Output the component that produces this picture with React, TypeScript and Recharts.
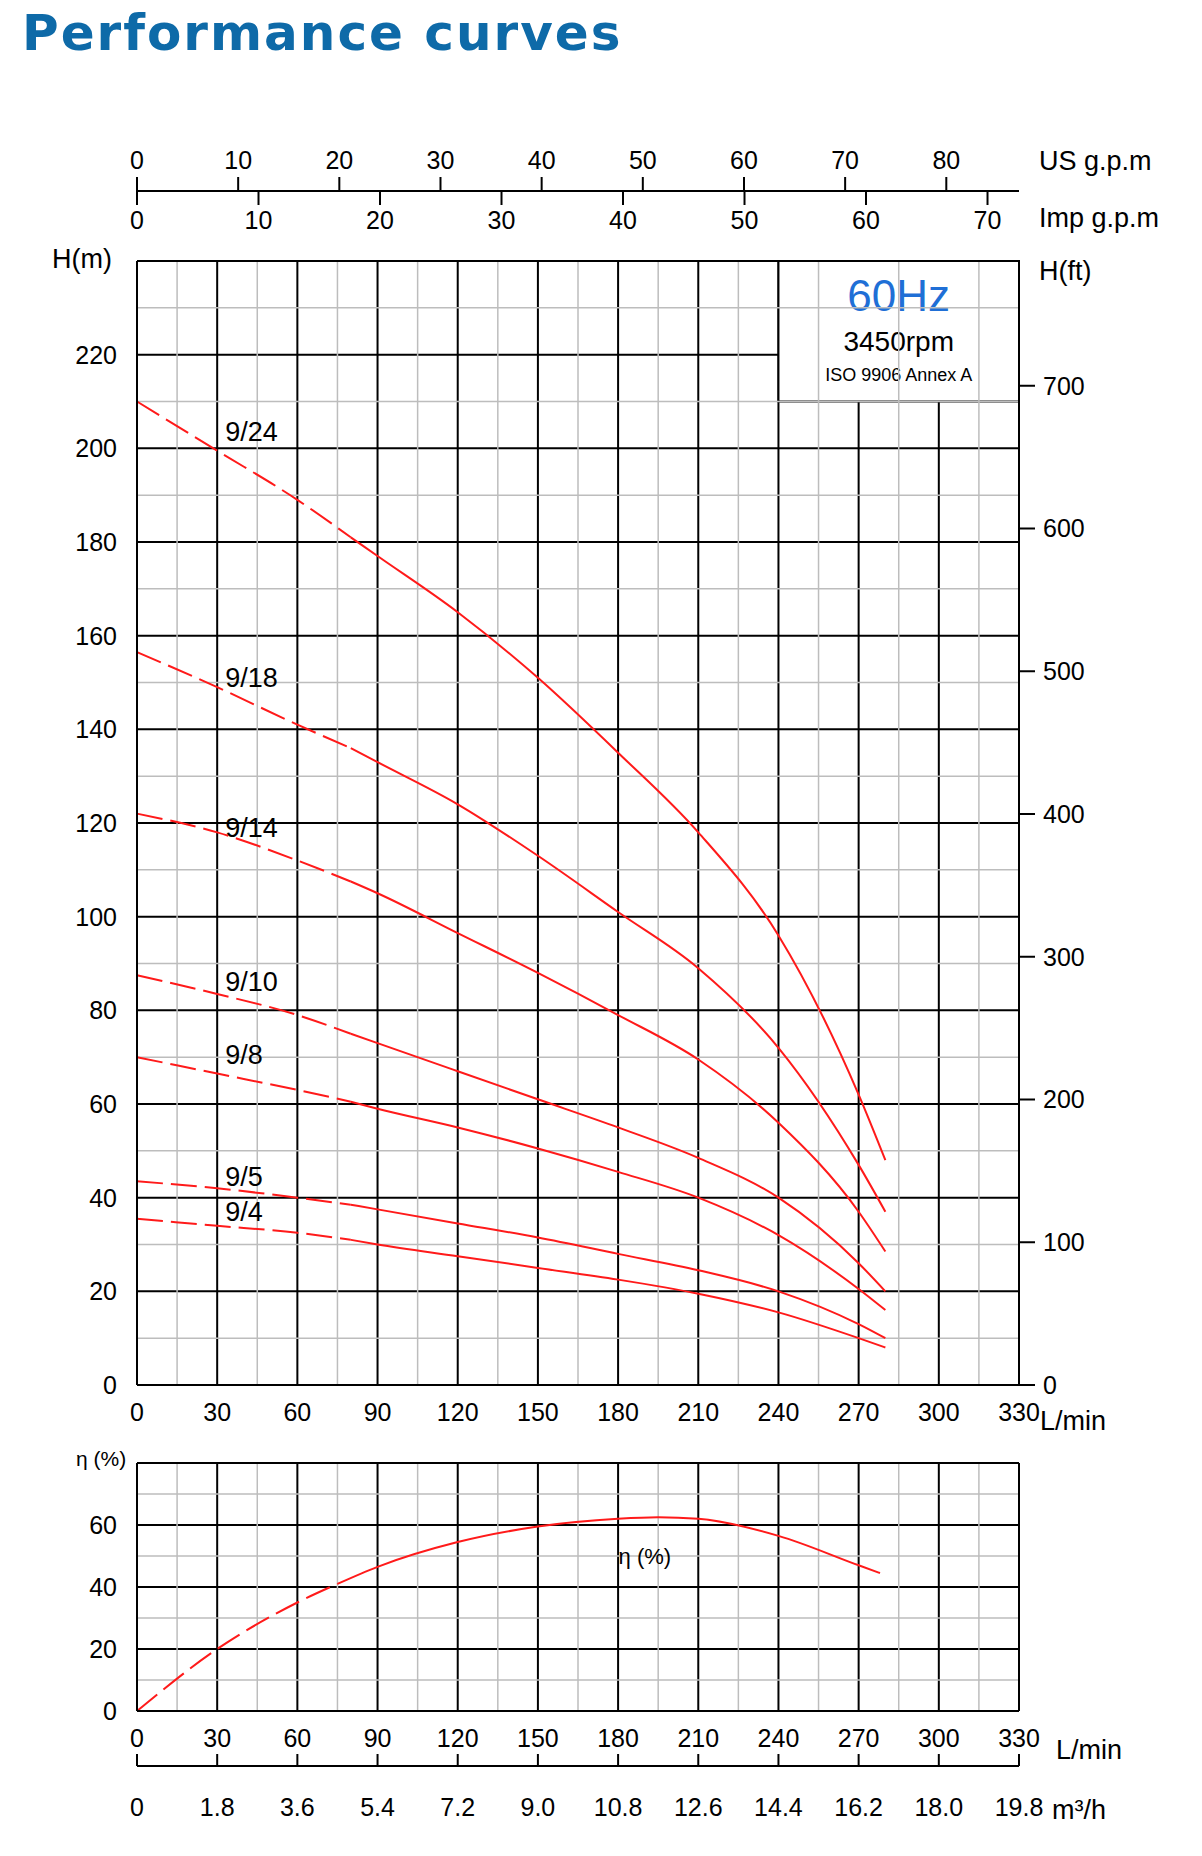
import React from "react";
import { ComposedChart, LineChart, Line, XAxis, YAxis, CartesianGrid, ReferenceLine, ReferenceArea, ReferenceDot } from "recharts";

const flows = [0, 30, 60, 80, 90, 120, 150, 180, 210, 240, 270, 280];
const h24 = [210, 199.5, 189, 181, 177, 165, 151, 135, 118, 96, 62, 48];
const h18 = [156.5, 149, 141, 136, 133, 124, 113, 101, 89, 72, 47, 37];
const h14 = [122, 118, 112, 107.5, 105, 96.5, 88, 79, 69.5, 56, 37, 28.5];
const h10 = [87.5, 83.5, 79, 75, 73, 67, 61, 55, 48.5, 40, 26, 20];
const h8 = [70, 66.5, 63, 60.5, 59, 55, 50.5, 45.5, 40, 32, 20.5, 16];
const h5 = [43.5, 42, 40, 38.5, 37.5, 34.5, 31.5, 28, 24.5, 20, 13, 10];
const h4 = [35.5, 34, 32.5, 31, 30, 27.5, 25, 22.5, 19.5, 15.5, 10, 8];
const curveNames = ["9/24", "9/18", "9/14", "9/10", "9/8", "9/5", "9/4"];
const curveVals = [h24, h18, h14, h10, h8, h5, h4];
const labelY = [203.5, 151, 119, 86, 70.5, 44.5, 37];
const labelX = 33;
const dashEnd = 80;

const effFlows = [0, 30, 60, 75, 90, 120, 150, 180, 195, 210, 240, 270, 278];
const effVals = [0, 20, 35, 41, 46.5, 54.5, 59.5, 62, 62.5, 62, 56.5, 47, 44.5];
const effDashEnd = 75;

const xTicks = [0, 30, 60, 90, 120, 150, 180, 210, 240, 270, 300, 330];
const xMinor = [15, 45, 75, 105, 135, 165, 195, 225, 255, 285, 315];
const yTicks = [0, 20, 40, 60, 80, 100, 120, 140, 160, 180, 200, 220, 240];
const yLabelTicks = [0, 20, 40, 60, 80, 100, 120, 140, 160, 180, 200, 220];
const yMinor = [10, 30, 50, 70, 90, 110, 130, 150, 170, 190, 210, 230];
const ftTicks = [0, 100, 200, 300, 400, 500, 600, 700];
const usTicks = [0, 10, 20, 30, 40, 50, 60, 70, 80];
const impTicks = [0, 10, 20, 30, 40, 50, 60, 70];
const effTicks = [0, 20, 40, 60, 80];
const effLabelTicks = [0, 20, 40, 60];
const effMinor = [10, 30, 50, 70];
const m3Ticks = [0, 1.8, 3.6, 5.4, 7.2, 9.0, 10.8, 12.6, 14.4, 16.2, 18.0, 19.8];

const FONT = "'Liberation Sans', Arial, sans-serif";
const RED = "#ff1a1a";
const tickStyle = { fill: "#000", fontSize: 25, fontFamily: FONT };

const mainData = flows.map((q, i) => {
  const row: any = { q, ft: h24[i] * 3.2808 };
  curveVals.forEach((arr, k) => {
    if (q <= dashEnd) row["d" + k] = arr[i];
    if (q >= dashEnd) row["s" + k] = arr[i];
  });
  return row;
});
const effData = effFlows.map((q, i) => ({
  q,
  m3: (q * 60) / 1000,
  d: q <= effDashEnd ? effVals[i] : undefined,
  s: q >= effDashEnd ? effVals[i] : undefined,
}));

const W = 1202;
const L = 137;
const R = 183;

const BoxLabel = (props: any) => {
  const { viewBox } = props;
  const cx = viewBox.x + viewBox.width / 2;
  const y = viewBox.y;
  return (
    <g fontFamily={FONT}>
      <text x={cx} y={y + 50} textAnchor="middle" fontSize={44} fill="#1f6fd6">60Hz</text>
      <text x={cx} y={y + 90} textAnchor="middle" fontSize={28} fill="#000">3450rpm</text>
      <text x={cx} y={y + 120} textAnchor="middle" fontSize={18} fill="#000">ISO 9906 Annex A</text>
    </g>
  );
};

const txt = (s: string, left: number, top: number, size = 27, extra: any = {}) => (
  <div style={{ position: "absolute", left, top, fontSize: size, fontFamily: FONT, color: "#000", whiteSpace: "nowrap", lineHeight: 1, ...extra }}>{s}</div>
);

export default function App() {
  return (
    <div style={{ position: "absolute", left: 0, top: 0, width: W, height: 1856, background: "#fff" }}>
      <div style={{ position: "absolute", left: 22, top: 4, fontSize: 50, fontWeight: 900, fontFamily: "'DejaVu Sans', sans-serif", color: "#0e6aa8", letterSpacing: 2 }}>Performance curves</div>

      <div style={{ position: "absolute", left: 0, top: 0 }}>
        <LineChart width={W} height={200} data={[]} margin={{ top: 131, right: R, bottom: 0, left: L }}>
          <XAxis type="number" dataKey="q" orientation="top" domain={[0, 330 / 3.785]} ticks={usTicks} height={60} allowDataOverflow tick={tickStyle} tickSize={14} tickMargin={8} stroke="#000" strokeWidth={2} />
        </LineChart>
      </div>
      <div style={{ position: "absolute", left: 0, top: 0 }}>
        <LineChart width={W} height={260} data={[]} margin={{ top: 100, right: R, bottom: 0, left: L }}>
          <XAxis type="number" dataKey="q" orientation="bottom" domain={[0, 330 / 4.546]} ticks={impTicks} height={69} allowDataOverflow tick={tickStyle} tickSize={14} tickMargin={6} stroke="#000" strokeWidth={2} />
        </LineChart>
      </div>

      <div style={{ position: "absolute", left: 0, top: 0 }}>
        <ComposedChart width={W} height={1430} data={mainData} margin={{ top: 261, right: 0, bottom: 5, left: 0 }}>
          {xMinor.map((v) => <ReferenceLine key={"xm" + v} x={v} yAxisId="m" stroke="#bdbdbd" strokeWidth={1.5} />)}
          {yMinor.map((v) => <ReferenceLine key={"ym" + v} y={v} yAxisId="m" stroke="#bdbdbd" strokeWidth={1.5} />)}
          <CartesianGrid stroke="#000" strokeWidth={2} yAxisId="m" />
          <XAxis type="number" dataKey="q" domain={[0, 330]} ticks={xTicks} tick={tickStyle} tickLine={false} axisLine={{ stroke: "#000", strokeWidth: 2 }} height={40} tickMargin={12} />
          <YAxis yAxisId="m" type="number" domain={[0, 240]} ticks={yTicks} width={L} tick={tickStyle} tickLine={false} axisLine={{ stroke: "#000", strokeWidth: 2 }} tickMargin={14} tickFormatter={(v: number) => (yLabelTicks.includes(v) ? String(v) : "")} />
          <YAxis yAxisId="ft" orientation="right" type="number" dataKey="ft" domain={[0, 240 * 3.2808]} allowDataOverflow ticks={ftTicks} width={R} tick={tickStyle} tickSize={16} tickMargin={8} stroke="#000" strokeWidth={2} />
          <Line yAxisId="ft" dataKey="ft" stroke="none" strokeWidth={0} dot={false} activeDot={false} isAnimationActive={false} />
          <ReferenceLine x={330} yAxisId="m" stroke="#000" strokeWidth={2} />
          <ReferenceLine y={240} yAxisId="m" stroke="#000" strokeWidth={2} />
          <ReferenceArea x1={240} x2={330} y1={210} y2={240} yAxisId="m" fill="#fff" fillOpacity={1} stroke="#000" strokeWidth={2} label={<BoxLabel />} />
          {curveVals.map((_, k) => (
            <Line key={"d" + k} yAxisId="m" dataKey={"d" + k} stroke={RED} strokeWidth={2} strokeDasharray="26 8" dot={false} isAnimationActive={false} type="monotone" />
          ))}
          {curveVals.map((_, k) => (
            <Line key={"s" + k} yAxisId="m" dataKey={"s" + k} stroke={RED} strokeWidth={2} dot={false} isAnimationActive={false} type="monotone" />
          ))}
          {curveNames.map((n, k) => (
            <ReferenceDot key={n} yAxisId="m" x={labelX} y={labelY[k]} r={0} stroke="none" fill="none"
              label={({ viewBox }: any) => <text x={viewBox.cx ?? viewBox.x} y={(viewBox.cy ?? viewBox.y) + 9} fontSize={27} fontFamily={FONT} fill="#000">{n}</text>} />
          ))}
        </ComposedChart>
      </div>

      <div style={{ position: "absolute", left: 0, top: 1435 }}>
        <ComposedChart width={W} height={411} data={effData} margin={{ top: 28, right: R, bottom: 0, left: 0 }}>
          {xMinor.map((v) => <ReferenceLine key={"exm" + v} x={v} xAxisId="lm" stroke="#bdbdbd" strokeWidth={1.5} />)}
          {effMinor.map((v) => <ReferenceLine key={"eym" + v} y={v} xAxisId="lm" stroke="#bdbdbd" strokeWidth={1.5} />)}
          <CartesianGrid stroke="#000" strokeWidth={2} xAxisId="lm" />
          <XAxis xAxisId="lm" type="number" dataKey="q" domain={[0, 330]} ticks={xTicks} tick={tickStyle} tickLine={false} axisLine={{ stroke: "#000", strokeWidth: 2 }} height={55} tickMargin={12} />
          <XAxis xAxisId="m3" type="number" dataKey="m3" domain={[0, 19.8]} ticks={m3Ticks} tick={tickStyle} tickSize={-12} tickMargin={44} tickFormatter={(v: number) => (v === 0 ? "0" : v.toFixed(1))} stroke="#000" strokeWidth={2} height={80} allowDataOverflow />
          <YAxis type="number" domain={[0, 80]} ticks={effTicks} width={L} tick={tickStyle} tickLine={false} axisLine={{ stroke: "#000", strokeWidth: 2 }} tickMargin={14} tickFormatter={(v: number) => (effLabelTicks.includes(v) ? String(v) : "")} />
          <ReferenceLine x={330} xAxisId="lm" stroke="#000" strokeWidth={2} />
          <ReferenceLine y={80} xAxisId="lm" stroke="#000" strokeWidth={2} />
          <Line xAxisId="lm" dataKey="d" stroke={RED} strokeWidth={2} strokeDasharray="26 8" dot={false} isAnimationActive={false} type="monotone" />
          <Line xAxisId="lm" dataKey="s" stroke={RED} strokeWidth={2} dot={false} isAnimationActive={false} type="monotone" />
          <ReferenceDot xAxisId="lm" x={190} y={50} r={0} stroke="none" fill="none"
            label={({ viewBox }: any) => <text x={viewBox.cx ?? viewBox.x} y={(viewBox.cy ?? viewBox.y) + 8} textAnchor="middle" fontSize={22} fontFamily={FONT} fill="#000">η (%)</text>} />
        </ComposedChart>
      </div>

      {txt("US g.p.m", 1039, 148, 27)}
      {txt("Imp g.p.m", 1039, 205, 27)}
      {txt("H(m)", 52, 246, 27)}
      {txt("H(ft)", 1039, 258, 27)}
      {txt("L/min", 1040, 1408, 27)}
      {txt("η (%)", 76, 1448, 21)}
      {txt("L/min", 1056, 1737, 27)}
      {txt("m³/h", 1052, 1797, 27)}
    </div>
  );
}
